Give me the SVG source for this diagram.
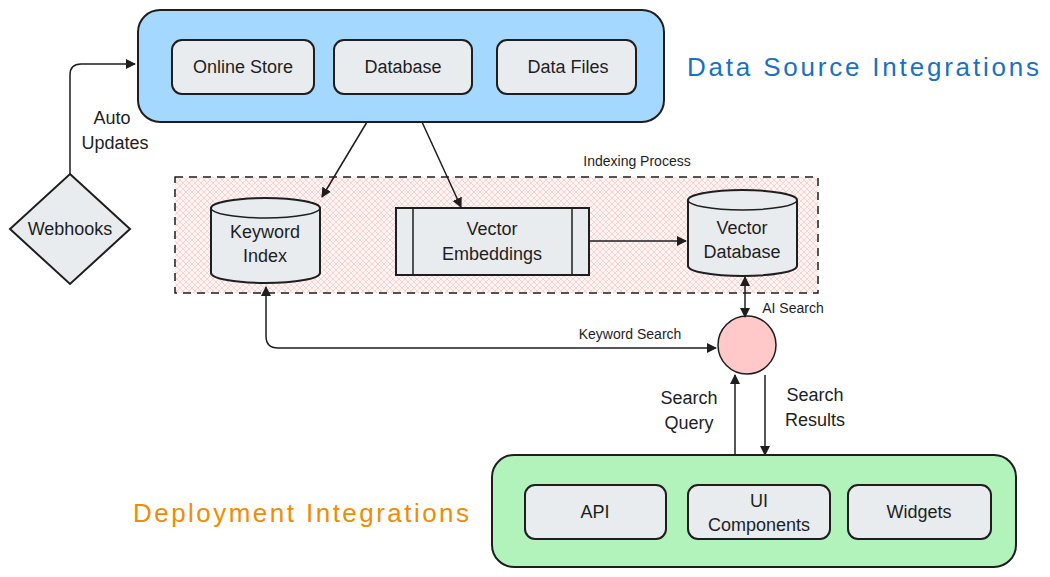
<svg xmlns="http://www.w3.org/2000/svg" width="1050" height="577" viewBox="0 0 1050 577">
<style>
text{font-family:"Liberation Sans","DejaVu Sans",sans-serif;fill:#1e1e1e;text-anchor:middle}
.n{font-size:18px}
.s{font-size:14px}
.box{stroke:#1e1e1e;stroke-width:2}
.in{fill:#e9ecef;stroke:#1e1e1e;stroke-width:2}
.c{fill:none;stroke:#1e1e1e;stroke-width:1.5}
</style>
<defs>
<marker id="a" viewBox="0 0 10 10" refX="9" refY="5" markerWidth="10" markerHeight="10" orient="auto-start-reverse" markerUnits="userSpaceOnUse"><path d="M0,0L10,5L0,10z" fill="#1e1e1e"/></marker>
<pattern id="h" width="6" height="6" patternUnits="userSpaceOnUse"><rect width="6" height="6" fill="#fff5f5"/><path d="M0,0L6,6M6,0L0,6" stroke="#ffc9c9" stroke-width="0.8"/></pattern>
</defs>
<g id="indexing"><rect x="175" y="177" width="643" height="116" fill="url(#h)" stroke="#1e1e1e" stroke-width="1.5" stroke-dasharray="8 6"/><text class="s" x="637" y="166">Indexing Process</text></g>
<g id="sources"><rect class="box" x="138" y="10" width="526" height="112" rx="22" fill="#a5d8ff"/></g>
<g id="online"><rect class="in" x="172" y="40" width="142" height="54" rx="10"/><text class="n" x="243" y="73">Online Store</text></g>
<g id="database"><rect class="in" x="334" y="40" width="138" height="54" rx="10"/><text class="n" x="403" y="73">Database</text></g>
<g id="files"><rect class="in" x="497" y="40" width="139" height="54" rx="10"/><text class="n" x="568" y="73">Data Files</text></g>
<text x="863" y="76" textLength="352" lengthAdjust="spacing" style="font-size:26px;fill:#1971c2">Data Source Integrations</text>
<g id="keyword"><path class="in" d="M211,208 A54.5,10 0 0 1 320,208 L320,273 A54.5,10 0 0 1 211,273 Z"/><path class="c" d="M211,208 A54.5,10 0 0 0 320,208"/><text class="n" x="265" y="238">Keyword</text><text class="n" x="265" y="262">Index</text></g>
<g id="embed"><rect class="in" x="396" y="208" width="193" height="67"/><path class="c" d="M413,208V275M572,208V275"/><text class="n" x="492" y="235">Vector</text><text class="n" x="492" y="260">Embeddings</text></g>
<g id="vdb"><path class="in" d="M688,200 A54.5,10 0 0 1 797,200 L797,266 A54.5,10 0 0 1 688,266 Z"/><path class="c" d="M688,200 A54.5,10 0 0 0 797,200"/><text class="n" x="742" y="234">Vector</text><text class="n" x="742" y="258">Database</text></g>
<g id="search"><circle cx="747" cy="345" r="29" fill="#ffc9c9" stroke="#1e1e1e" stroke-width="1.5"/></g>
<g id="webhooks"><path class="in" d="M70,174L130,229L70,284L10,229Z"/><text class="n" x="70" y="235">Webhooks</text></g>
<g id="deploy"><rect class="box" x="492" y="455" width="524" height="112" rx="22" fill="#b2f2bb"/></g>
<g id="api"><rect class="in" x="525" y="485" width="141" height="54" rx="10"/><text class="n" x="595" y="518">API</text></g>
<g id="ui"><rect class="in" x="688" y="485" width="142" height="54" rx="10"/><text class="n" x="759" y="507">UI</text><text class="n" x="759" y="531">Components</text></g>
<g id="widgets"><rect class="in" x="848" y="485" width="143" height="54" rx="10"/><text class="n" x="919" y="518">Widgets</text></g>
<text x="301" y="522" textLength="336" lengthAdjust="spacing" style="font-size:26px;fill:#f08c00">Deployment Integrations</text>
<g id="connectors">
<path class="c" marker-end="url(#a)" d="M70,174V75Q70,64 81,64H135"/>
<text class="n" x="112" y="124">Auto</text><text class="n" x="115" y="149">Updates</text>
<path class="c" marker-end="url(#a)" d="M367,122L322,197"/>
<path class="c" marker-end="url(#a)" d="M422,122L461,207"/>
<path class="c" marker-end="url(#a)" d="M589,241L686,241"/>
<path class="c" marker-start="url(#a)" marker-end="url(#a)" d="M745,277V317"/>
<text class="s" x="793" y="313">AI Search</text>
<path class="c" marker-start="url(#a)" marker-end="url(#a)" d="M266,287V336Q266,348 278,348H716"/>
<text class="s" x="630" y="339">Keyword Search</text>
<path class="c" marker-end="url(#a)" d="M735,455V375"/>
<text class="n" x="689" y="404">Search</text><text class="n" x="689" y="429">Query</text>
<path class="c" marker-end="url(#a)" d="M765,375V455"/>
<text class="n" x="815" y="401">Search</text><text class="n" x="815" y="426">Results</text>
</g>
</svg>
